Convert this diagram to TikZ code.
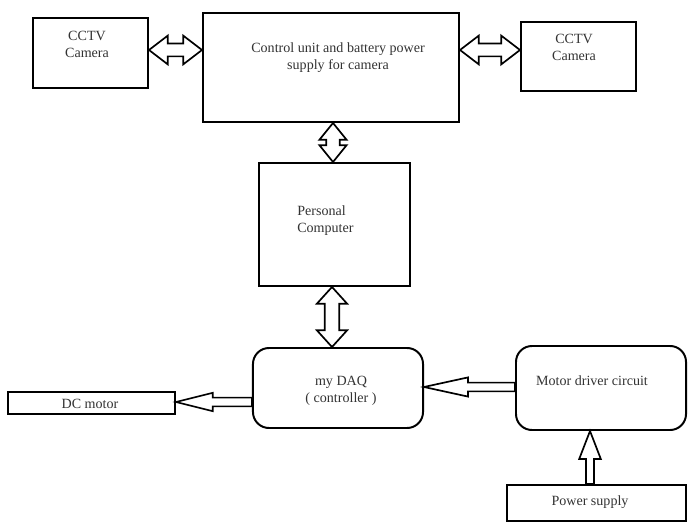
\documentclass[tikz,border=0pt]{standalone}
\usepackage{fontspec}
\setmainfont{Liberation Serif}
\usetikzlibrary{positioning}
\usetikzlibrary{calc}
\tikzset{
	box/.style={draw, line width=1.4pt, inner sep=0pt},
	roundbox/.style={box, rounded corners=0.4cm},
	lbl/.style={text=black!80, font=\rmfamily\fontsize{10}{12}\selectfont, align=center, inner sep=0pt},
	arrowline/.style={draw, line width=1.2pt, fill=white, line join=miter}
}
%hollow arrow: tail, tip, head length, head half width, shaft half width
\newcommand{\blockarrow}[5]{
	\draw[arrowline] (#2) -- ($(#2)!#3!(#1)!#4!90:(#1)$) -- ($(#2)!#3!(#1)!#5!90:(#1)$)
		-- ($(#1)!#5!-90:(#2)$) -- ($(#1)!#5!90:(#2)$)
		-- ($(#2)!#3!(#1)!#5!-90:(#1)$) -- ($(#2)!#3!(#1)!#4!-90:(#1)$) -- cycle;
}
%hollow arrow with a head at both ends
\newcommand{\blockdblarrow}[5]{
	\draw[arrowline] (#1) -- ($(#1)!#3!(#2)!#4!90:(#2)$) -- ($(#1)!#3!(#2)!#5!90:(#2)$)
		-- ($(#2)!#3!(#1)!#5!-90:(#1)$) -- ($(#2)!#3!(#1)!#4!-90:(#1)$)
		-- (#2) -- ($(#2)!#3!(#1)!#4!90:(#1)$) -- ($(#2)!#3!(#1)!#5!90:(#1)$)
		-- ($(#1)!#3!(#2)!#5!-90:(#2)$) -- ($(#1)!#3!(#2)!#4!-90:(#2)$) -- cycle;
}

\begin{document}
\begin{tikzpicture}[x=0.025cm, y=-0.025cm]
	\useasboundingbox (0,0) rectangle (688,523);

	%blocks
	\node[box, minimum width=2.875cm, minimum height=1.75cm] (camL) at (90.5,53) {};
	\node[box, minimum width=6.4cm, minimum height=2.725cm] (ctrl) at (331,67.5) {};
	\node[box, minimum width=2.875cm, minimum height=1.725cm] (camR) at (578.5,56.5) {};
	\node[box, minimum width=3.775cm, minimum height=3.075cm] (pc) at (334.5,224.5) {};
	\node[roundbox, minimum width=4.25cm, minimum height=2cm] (daq) at (338,388) {};
	\node[box, minimum width=4.175cm, minimum height=0.55cm] (dcm) at (91.5,403) {};
	\node[roundbox, minimum width=4.25cm, minimum height=2.1cm] (drv) at (601,388) {};
	\node[box, minimum width=4.475cm, minimum height=0.9cm] (pwr) at (596.5,503) {};

	%texts
	\node[lbl] (camLtxt) at (87,44) {CCTV\\Camera};
	\node[lbl] (ctrltxt) at (338,58) {Control unit and battery power\\supply for camera};
	\node[lbl] (camRtxt) at (574,47) {CCTV\\Camera};
	\node[lbl, anchor=west, align=left] (pctxt) at (297,221) {Personal\\Computer};
	\node[lbl] (daqtxt) at (341,391) {my DAQ\\( controller )};
	\node[lbl] (dcmtxt) at (90,404) {DC motor};
	\node[lbl] (drvtxt) at (592,381) {Motor driver circuit};
	\node[lbl] (pwrtxt) at (590,502) {Power supply};

	%end points of the arrows
	\coordinate (a1) at (camL.east |- 0,50);	\coordinate (b1) at (ctrl.west |- 0,50);
	\coordinate (a2) at (ctrl.east |- 0,50);	\coordinate (b2) at (camR.west |- 0,50);
	\coordinate (a3) at (ctrl.south -| 333,0);	\coordinate (b3) at (pc.north -| 333,0);
	\coordinate (a4) at (pc.south -| 332,0);	\coordinate (b4) at (daq.north -| 332,0);
	\coordinate (a5) at (daq.west |- 0,402);	\coordinate (b5) at (dcm.east |- 0,402);
	\coordinate (a6) at (drv.west |- 0,387);	\coordinate (b6) at (daq.east |- 0,387);
	\coordinate (a7) at (pwr.north -| 590,0);	\coordinate (b7) at (drv.south -| 590,0);

	%arrows
	\blockdblarrow{a1}{b1}{0.47cm}{0.36cm}{0.16cm}
	\blockdblarrow{a2}{b2}{0.47cm}{0.36cm}{0.16cm}
	\blockdblarrow{a3}{b3}{0.42cm}{0.34cm}{0.17cm}
	\blockdblarrow{a4}{b4}{0.42cm}{0.38cm}{0.18cm}
	\blockarrow{a5}{b5}{0.92cm}{0.23cm}{0.11cm}
	\blockarrow{a6}{b6}{1.1cm}{0.24cm}{0.11cm}
	\blockarrow{a7}{b7}{0.7cm}{0.27cm}{0.1cm}

\end{tikzpicture}
\end{document}
